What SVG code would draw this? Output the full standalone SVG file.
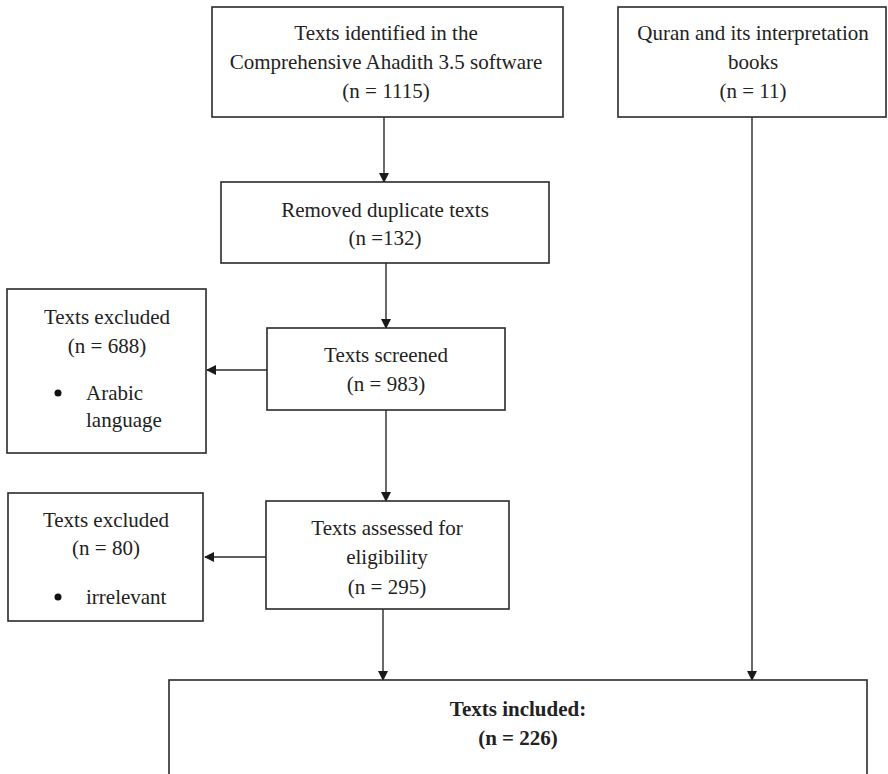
<svg xmlns="http://www.w3.org/2000/svg" width="888" height="774" viewBox="0 0 888 774">
<defs>
<marker id="ah" markerWidth="10" markerHeight="10" refX="9" refY="5" orient="auto" markerUnits="userSpaceOnUse">
<path d="M0,0 L10,5 L0,10 Z" fill="#1a1a1a"/>
</marker>
<style>
.box{fill:#fff;stroke:#2a2a2a;stroke-width:1.6}
.t{font-family:"Liberation Serif","Times New Roman",serif;font-size:21px;fill:#222;text-anchor:middle}
.l{font-family:"Liberation Serif","Times New Roman",serif;font-size:21px;fill:#222}
.b{font-family:"Liberation Serif","Times New Roman",serif;font-size:21px;font-weight:bold;fill:#222;text-anchor:middle}
.c{stroke:#2a2a2a;stroke-width:1.4;fill:none;marker-end:url(#ah)}
</style>
</defs>
<rect width="888" height="774" fill="#fff"/>
<g id="connectors">
<line class="c" x1="384" y1="117" x2="384" y2="182"/>
<line class="c" x1="386" y1="263" x2="386" y2="328"/>
<line class="c" x1="267" y1="370" x2="207" y2="370"/>
<line class="c" x1="386" y1="410" x2="386" y2="501"/>
<line class="c" x1="266" y1="557" x2="205" y2="557"/>
<line class="c" x1="383" y1="609" x2="383" y2="680"/>
<line class="c" x1="752" y1="117" x2="752" y2="680"/>
</g>
<g id="identified">
<rect class="box" x="212" y="7" width="351" height="110"/>
<text class="t" x="386" y="40">Texts identified in the</text>
<text class="t" x="386" y="69">Comprehensive Ahadith 3.5 software</text>
<text class="t" x="386" y="98">(n = 1115)</text>
</g>
<g id="quran">
<rect class="box" x="618" y="7" width="268" height="110"/>
<text class="t" x="753" y="40">Quran and its interpretation</text>
<text class="t" x="753" y="69">books</text>
<text class="t" x="753" y="98">(n = 11)</text>
</g>
<g id="duplicates">
<rect class="box" x="221" y="182" width="328" height="81"/>
<text class="t" x="385" y="217">Removed duplicate texts</text>
<text class="t" x="385" y="245">(n =132)</text>
</g>
<g id="screened">
<rect class="box" x="267" y="328" width="238" height="82"/>
<text class="t" x="386" y="362">Texts screened</text>
<text class="t" x="386" y="391">(n = 983)</text>
</g>
<g id="excluded1">
<rect class="box" x="7" y="289" width="199" height="164"/>
<text class="t" x="107" y="324">Texts excluded</text>
<text class="t" x="107" y="353">(n = 688)</text>
<circle cx="58" cy="393" r="3.5" fill="#111"/>
<text class="l" x="86" y="400">Arabic</text>
<text class="l" x="86" y="427">language</text>
</g>
<g id="assessed">
<rect class="box" x="266" y="501" width="243" height="108"/>
<text class="t" x="387" y="535">Texts assessed for</text>
<text class="t" x="387" y="564">eligibility</text>
<text class="t" x="387" y="594">(n = 295)</text>
</g>
<g id="excluded2">
<rect class="box" x="8" y="493" width="195" height="128"/>
<text class="t" x="106" y="527">Texts excluded</text>
<text class="t" x="106" y="555">(n = 80)</text>
<circle cx="58" cy="597" r="3.5" fill="#111"/>
<text class="l" x="86" y="604">irrelevant</text>
</g>
<g id="included">
<rect class="box" x="169" y="680" width="698" height="110"/>
<text class="b" x="518" y="716">Texts included:</text>
<text class="b" x="518" y="745">(n = 226)</text>
</g>
</svg>
